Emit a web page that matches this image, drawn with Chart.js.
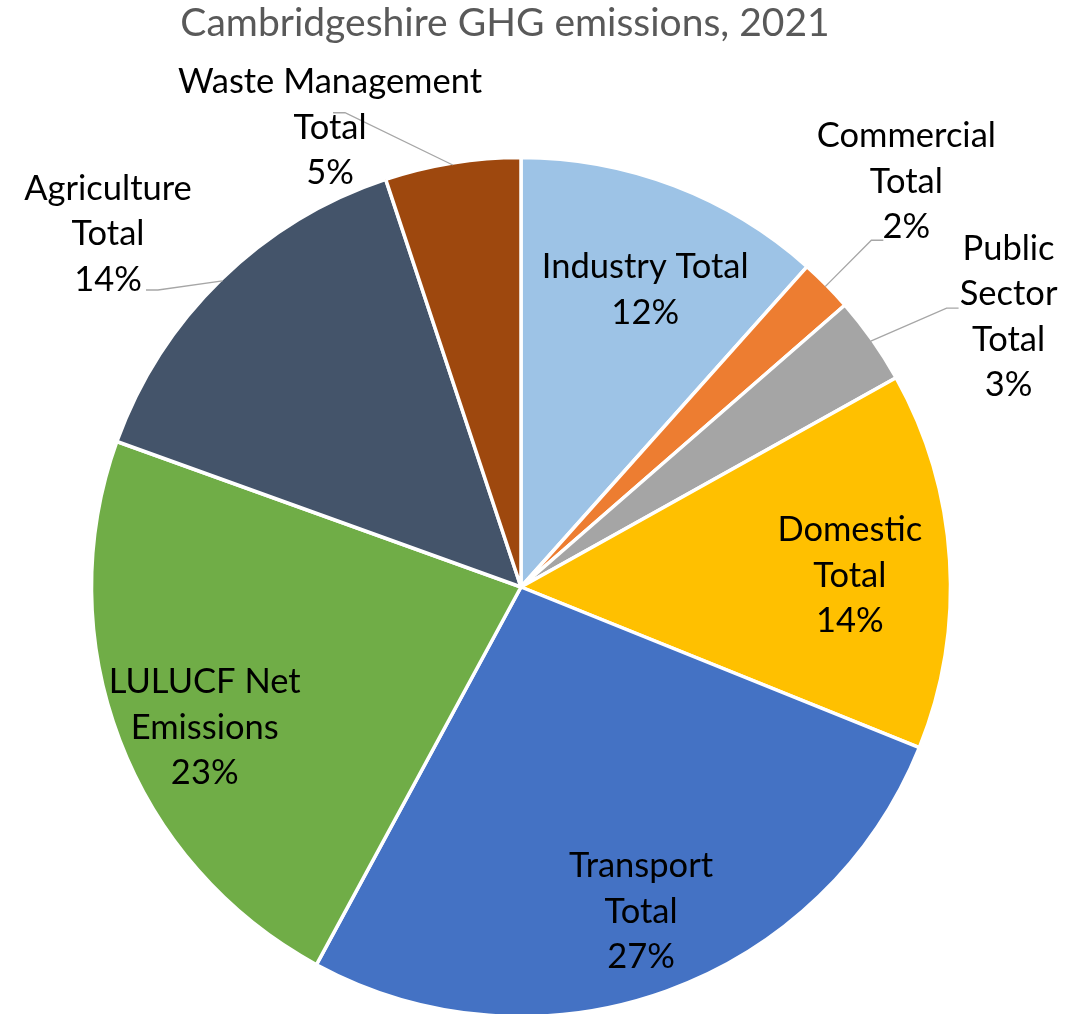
<!DOCTYPE html>
<html>
<head>
<meta charset="utf-8">
<title>Cambridgeshire GHG emissions, 2021</title>
<script src="https://cdn.jsdelivr.net/npm/chart.js@4/dist/chart.umd.min.js"></script>
<style>
  html, body { margin: 0; padding: 0; background: #fff; overflow: hidden; }
</style>
</head>
<body>
<canvas id="ghg-chart" width="1078" height="1014"></canvas>
<script>
// Emission sectors, clockwise from 12 o'clock
const sectors = [
  'Industry Total', 'Commercial Total', 'Public Sector Total', 'Domestic Total',
  'Transport Total', 'LULUCF Net Emissions', 'Agriculture Total', 'Waste Management Total'
];
// Share of the county total, %
const shares = [11.6, 2.0, 3.3, 14.2, 26.8, 22.6, 14.4, 5.1];
// How each sector name wraps in its data label
const nameLines = [
  ['Industry Total'],
  ['Commercial', 'Total'],
  ['Public', 'Sector', 'Total'],
  ['Domestic', 'Total'],
  ['Transport', 'Total'],
  ['LULUCF Net', 'Emissions'],
  ['Agriculture', 'Total'],
  ['Waste Management', 'Total']
];

const colours = ['#9DC3E6', '#ED7D31', '#A5A5A5', '#FFC000', '#4472C4', '#70AD47', '#44546A', '#9E480E'];

// Where each label sits: distance as a fraction of the radius, a turn (deg) off the slice middle,
// and for the outside ones the point (relative to the label centre) the leader line runs to
const labelSpots = [
  { r: 0.75, turn: 1.8 },
  { r: 1.302, turn: -1.8, leader: [-23, 58.5] },
  { r: 1.298, turn: 6.1, leader: [-50, -8.5] },
  { r: 0.766, turn: 1.6 },
  { r: 0.806, turn: -0.5 },
  { r: 0.806, turn: -3.1 },
  { r: 1.265, turn: -5.2, leader: [38, 56] },
  { r: 1.158, turn: -13.4, leader: [3, -15] }
];

const LABEL_FONT = '34.5px Lato';
const LINE_GAP = 45.5;

const sliceLabels = {
  id: 'sliceLabels',
  afterDatasetsDraw(chart) {
    const ctx = chart.ctx;
    const meta = chart.getDatasetMeta(0);
    const total = shares.reduce((a, b) => a + b, 0);

    ctx.save();
    meta.data.forEach((arc, i) => {
      const { x, y, startAngle, endAngle, outerRadius } =
        arc.getProps(['x', 'y', 'startAngle', 'endAngle', 'outerRadius'], true);
      const mid = (startAngle + endAngle) / 2;
      const spot = labelSpots[i];
      const a = mid + spot.turn * Math.PI / 180;
      const cx = x + Math.cos(a) * outerRadius * spot.r;
      const cy = y + Math.sin(a) * outerRadius * spot.r;

      if (spot.leader) {
        const ex = x + Math.cos(mid) * (outerRadius - 2);
        const ey = y + Math.sin(mid) * (outerRadius - 2);
        const endX = cx + spot.leader[0];
        const endY = cy + spot.leader[1];
        const elbowX = endX + 12 * Math.sign(ex - endX);
        ctx.beginPath();
        ctx.moveTo(ex, ey);
        ctx.lineTo(elbowX, endY);
        ctx.lineTo(endX, endY);
        ctx.strokeStyle = '#A6A6A6';
        ctx.lineWidth = 1.3;
        ctx.stroke();
      }

      const lines = nameLines[i].concat(Math.round(shares[i] / total * 100) + '%');
      ctx.font = LABEL_FONT;
      ctx.fillStyle = '#000';
      ctx.textAlign = 'center';
      ctx.textBaseline = 'middle';
      lines.forEach((t, k) => {
        ctx.fillText(t, cx, cy + (k - (lines.length - 1) / 2) * LINE_GAP);
      });
    });
    ctx.restore();
  }
};

// Title sits a little left of the pie centre, so it is drawn here rather than by the title plugin
const chartTitle = {
  id: 'chartTitle',
  afterDraw(chart) {
    const ctx = chart.ctx;
    ctx.save();
    ctx.font = '39px Lato';
    ctx.fillStyle = '#595959';
    ctx.textAlign = 'center';
    ctx.textBaseline = 'middle';
    ctx.fillText('Cambridgeshire GHG emissions, 2021', 505, 23);
    ctx.restore();
  }
};

new Chart(document.getElementById('ghg-chart'), {
  type: 'pie',
  data: {
    labels: sectors,
    datasets: [{
      data: shares,
      backgroundColor: colours,
      borderColor: '#ffffff',
      borderWidth: 3.5,
      radius: 429.5
    }]
  },
  options: {
    responsive: false,
    animation: false,
    layout: { padding: { top: 160, left: 94, right: 130, bottom: 0 } },
    plugins: {
      legend: { display: false },
      tooltip: { enabled: false }
    }
  },
  plugins: [sliceLabels, chartTitle]
});
</script>
</body>
</html>
